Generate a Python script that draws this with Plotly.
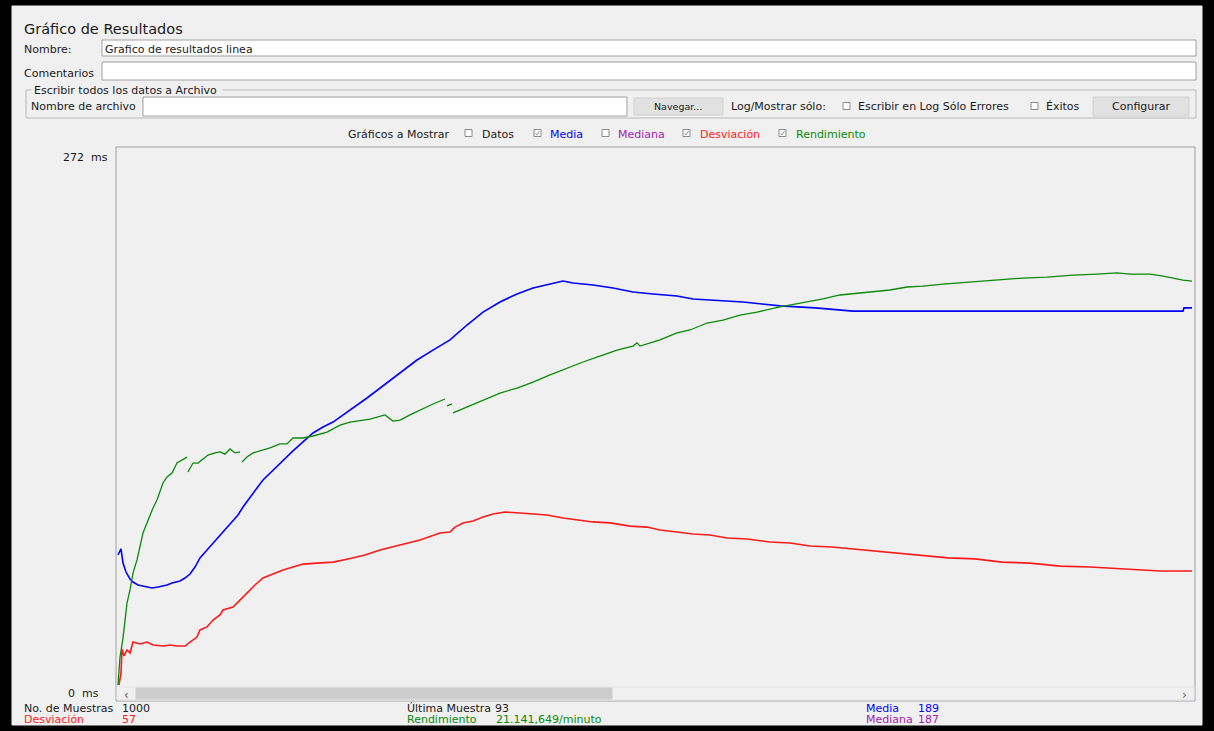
import plotly.graph_objects as go

W, H = 1214, 731

# samples (x) and values in ms
media_x = [0, 3, 5, 8, 12, 15, 20, 25, 34, 40, 49, 54, 62, 67, 72, 77, 82, 89, 95, 102,
           109, 115, 120, 125, 132, 139, 145, 152, 159, 165, 175, 185, 195, 205, 215, 249,
           282, 299, 315, 332, 349, 365, 382, 399, 415, 432, 445, 455, 475, 495, 515, 535,
           559, 575, 597, 625, 644, 662, 697, 735, 1065, 1066, 1074]
media_y = [66.9, 69.9, 62.8, 58.3, 54.8, 53.3, 51.8, 51.3, 50.3, 50.8, 51.8, 52.8, 53.8, 55.3,
           57.3, 60.8, 65.4, 69.4, 72.9, 76.9, 80.9, 84.5, 87.0, 91.0, 95.5, 100.6, 104.6,
           108.1, 111.1, 114.6, 119.2, 123.7, 128.2, 131.2, 133.7, 145.8, 158.4, 164.9, 169.9,
           175.0, 182.5, 189.0, 194.1, 198.1, 201.1, 203.1, 204.6, 203.6, 202.6, 201.1, 199.1,
           198.1, 197.1, 195.6, 195.1, 194.1, 193.1, 192.1, 191.1, 189.5, 189.5, 191.1, 191.1]

desv_x = [1, 3, 4, 6, 9, 12, 15, 22, 29, 35, 45, 52, 59, 67, 72, 79, 82, 89, 95, 102, 105,
          115, 122, 129, 137, 145, 155, 165, 175, 185, 199, 215, 230, 247, 262, 282, 302, 322,
          332, 337, 345, 355, 365, 375, 387, 402, 415, 429, 445, 459, 475, 492, 512, 529, 542,
          559, 575, 592, 609, 629, 652, 672, 692, 714, 735, 759, 782, 805, 830, 857, 884, 912,
          942, 972, 1007, 1042, 1074]
desv_y = [1.5, 7.5, 19.6, 16.1, 19.1, 17.6, 23.1, 22.1, 23.1, 21.6, 21.1, 21.6, 21.1, 21.1,
          23.1, 25.6, 29.2, 30.7, 34.2, 36.7, 39.2, 40.7, 44.2, 47.8, 51.8, 55.3, 57.3, 59.3,
          60.8, 62.3, 62.8, 63.3, 64.9, 66.9, 69.4, 71.9, 74.4, 77.9, 78.4, 80.9, 83.0, 84.0,
          86.0, 87.5, 88.5, 88.0, 87.5, 87.0, 85.5, 84.5, 83.5, 83.0, 81.4, 80.9, 79.4, 78.4,
          77.4, 76.9, 75.4, 74.9, 73.4, 72.9, 71.4, 70.9, 69.9, 68.9, 67.9, 66.9, 65.4, 64.9,
          63.3, 62.8, 61.3, 60.8, 59.8, 58.8, 58.8]

# None marks the small gaps in the throughput curve
rend_x = [0, 1, 2, 5, 7, 9, 12, 15, 19, 21, 25, 29, 32, 35, 39, 42, 45, 49, 54, 59, 64, 69,
          69.5, 70, 75, 80, 85, 90, 97, 102, 107, 112, 117, 122, 123, 124, 129, 135, 145, 152,
          162, 169, 175, 185, 195, 209, 222, 232, 252, 267, 275, 282, 292, 302, 315, 327, 328,
          329, 334, 334.5, 335, 349, 365, 382, 399, 415, 432, 449, 465, 479, 499, 515, 519, 522,
          542, 559, 572, 589, 605, 622, 639, 662, 685, 705, 722, 745, 772, 789, 805, 825, 849,
          872, 905, 929, 955, 979, 999, 1012, 1032, 1045, 1055, 1065, 1074]
rend_y = [1.5, 10.1, 15.6, 25.1, 34.2, 42.7, 49.3, 57.8, 64.4, 69.4, 77.9, 83.0, 87.0, 90.5,
          94.5, 98.5, 103.1, 106.1, 108.1, 113.1, 114.6, 116.1, None, 108.6, 113.1, 113.1,
          115.1, 117.1, 118.2, 118.7, 117.6, 120.2, 118.2, 118.7, None, 113.6, 116.1, 118.2,
          119.7, 120.7, 122.7, 122.7, 125.7, 125.7, 126.7, 128.7, 132.2, 133.7, 135.2, 137.3,
          134.2, 134.7, 137.3, 139.8, 142.8, 145.3, None, 141.8, 142.8, None, 138.3, 141.3,
          144.8, 148.3, 150.8, 153.8, 157.4, 160.9, 163.9, 166.4, 169.9, 171.9, 173.5, 171.9,
          175.0, 178.5, 180.0, 183.5, 185.0, 187.5, 189.0, 191.6, 193.6, 195.6, 197.6, 198.6,
          200.1, 201.6, 202.1, 203.1, 204.1, 205.1, 206.1, 206.6, 207.6, 208.1, 208.7, 208.1,
          208.1, 207.1, 206.1, 205.1, 204.6]

y_max = 272
x_span = [-2, 1077]

BLUE = "#0000ff"
RED = "#ff1a1a"
GREEN = "#0a8a0a"
PURPLE = "#a020b0"
PANEL = "#f0f0f0"
TXT = "#1a1a1a"
FONT = "DejaVu Sans"
SMALL = 11


def X(p):
    return p / W


def Y(p):
    return 1 - p / H


shapes = []
annotations = []


def rect(x0, y0, x1, y1, fill, line="#a0a0a0", layer="below"):
    shapes.append(dict(type="rect", xref="paper", yref="paper",
                       x0=X(x0), x1=X(x1), y0=Y(y1), y1=Y(y0),
                       fillcolor=fill, line=dict(color=line, width=1), layer=layer))


def text(x, y, s, color=TXT, size=SMALL, anchor="left"):
    annotations.append(dict(x=X(x), y=Y(y), xref="paper", yref="paper", text=s,
                            showarrow=False, xanchor=anchor, yanchor="middle",
                            xshift=-2 if anchor == "left" else 0, yshift=-1,
                            font=dict(family=FONT, size=size, color=color)))


def checkbox(x, y, checked):
    rect(x, y - 3.5, x + 7, y + 3.5, "#ffffff", "#8a8a8a")
    if checked:
        shapes.append(dict(type="path", xref="paper", yref="paper",
                           path=f"M {X(x + 1.5)},{Y(y)} L {X(x + 3)},{Y(y + 2)} L {X(x + 5.5)},{Y(y - 2)}",
                           line=dict(color="#9a9a9a", width=1), layer="below"))


# window frame and panel
rect(12, 6, 1202, 725, PANEL, PANEL)

text(24, 28, "Gráfico de Resultados", size=14.5)
text(24, 48, "Nombre:")
rect(102, 40, 1196, 56, "#ffffff")
text(105, 48, "Grafico de resultados linea")
text(24, 72, "Comentarios")
rect(102, 62, 1196, 80, "#ffffff")

rect(26, 90, 1196, 118, "rgba(0,0,0,0)", "#b8b8b8")
rect(32, 84, 222, 96, PANEL, PANEL)
text(34, 90, "Escribir todos los datos a Archivo")
text(31, 106, "Nombre de archivo")
rect(143, 97, 627, 116, "#ffffff")
rect(634, 98, 723, 115, "#e1e1e1", "#d0d0d0")
text(678, 106, "Navegar...", size=9.5, anchor="center")
text(731, 106, "Log/Mostrar sólo:")
checkbox(843, 106, False)
text(858, 106, "Escribir en Log Sólo Errores")
checkbox(1031, 106, False)
text(1046, 106, "Éxitos")
rect(1093, 97, 1189, 116, "#e1e1e1", "#d0d0d0")
text(1141, 106, "Configurar", anchor="center")

# which series are shown
text(348, 133, "Gráficos a Mostrar")
checkbox(465, 133, False)
text(482, 133, "Datos")
checkbox(534, 133, True)
text(550, 133, "Media", BLUE)
checkbox(602, 133, False)
text(618, 133, "Mediana", PURPLE)
checkbox(683, 133, True)
text(700, 133, "Desviación", RED)
checkbox(779, 133, True)
text(796, 133, "Rendimiento", GREEN)

# graph frame and scroll bar
rect(116, 147, 1195, 701, "rgba(0,0,0,0)", "#a0a0a0", layer="above")
rect(117, 687, 1194, 700, PANEL, "#e6e6e6", layer="above")
rect(136, 688, 612, 699, "#cdcdcd", "#cdcdcd", layer="above")
text(126, 694, "‹", color="#606060", size=12, anchor="center")
text(1184, 694, "›", color="#606060", size=12, anchor="center")
text(110, 156, f"{y_max}  ms", anchor="right")
text(101, 692, "0  ms", anchor="right")

# summary values
text(24, 707, "No. de Muestras")
text(122, 707, "1000")
text(24, 718, "Desviación", RED)
text(122, 718, "57", RED)
text(407, 707, "Última Muestra")
text(495, 707, "93")
text(407, 718, "Rendimiento", GREEN)
text(496, 718, "21.141,649/minuto", GREEN)
text(866, 707, "Media", BLUE)
text(918, 707, "189", BLUE)
text(866, 718, "Mediana", PURPLE)
text(918, 718, "187", PURPLE)

fig = go.Figure()
fig.add_trace(go.Scatter(x=media_x, y=media_y, mode="lines", line=dict(color=BLUE, width=1.6),
                         name="Media"))
fig.add_trace(go.Scatter(x=desv_x, y=desv_y, mode="lines", line=dict(color=RED, width=1.6),
                         name="Desviación"))
fig.add_trace(go.Scatter(x=rend_x, y=rend_y, mode="lines", line=dict(color=GREEN, width=1.3),
                         name="Rendimiento", connectgaps=False))

fig.update_layout(
    width=W, height=H,
    margin=dict(l=0, r=0, t=0, b=0),
    paper_bgcolor="#000000",
    plot_bgcolor="rgba(0,0,0,0)",
    showlegend=False,
    shapes=shapes,
    annotations=annotations,
    xaxis=dict(domain=[X(116), X(1195)], range=x_span, visible=False, fixedrange=True),
    yaxis=dict(domain=[Y(688), Y(147)], range=[0, y_max], visible=False, fixedrange=True),
)

fig.write_html("out.html", config=dict(displayModeBar=False),
               post_script="document.body.style.margin='0';document.body.style.background='#000';")
